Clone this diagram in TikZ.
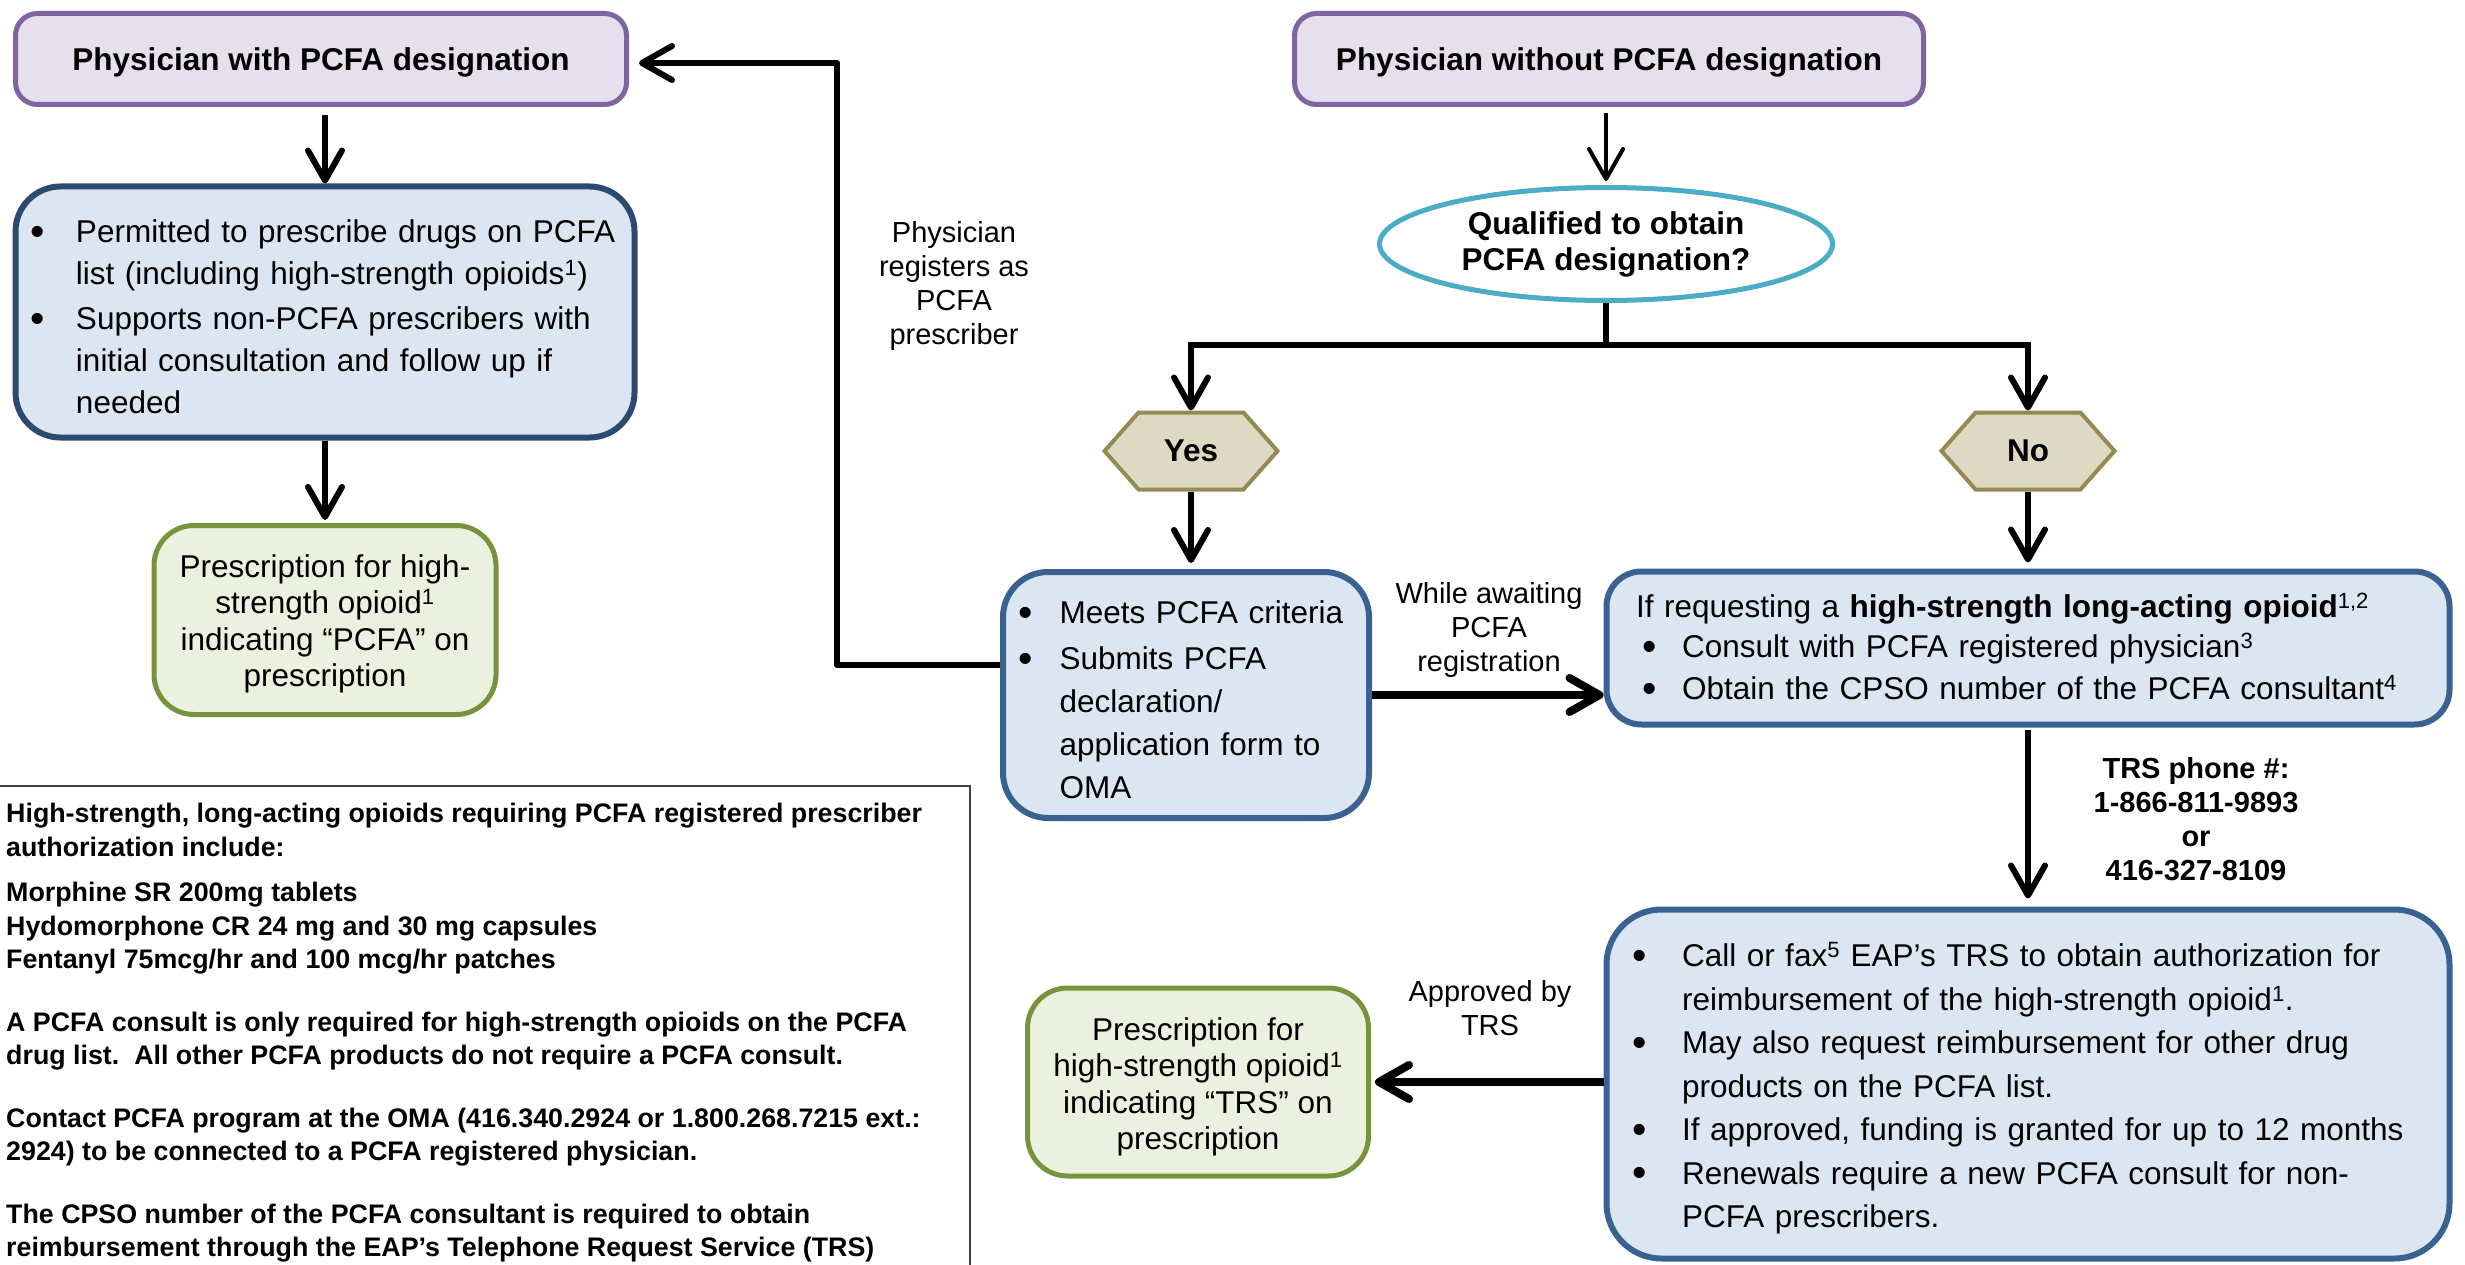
\documentclass[tikz,border=0pt]{standalone}
\usepackage{fontspec}
\usepackage{graphicx}
\setmainfont{Liberation Sans}
\usetikzlibrary{arrows.meta,shapes.geometric,shapes.symbols}

\definecolor{purpleline}{HTML}{8064A2}
\definecolor{purplefill}{HTML}{E5E0EC}
\definecolor{navyline}{HTML}{2C4A6E}
\definecolor{blueline}{HTML}{3A6291}
\definecolor{bluefill}{HTML}{DCE6F2}
\definecolor{greenline}{HTML}{77933C}
\definecolor{greenfill}{HTML}{EBF1DE}
\definecolor{hexline}{HTML}{948A54}
\definecolor{hexfill}{HTML}{DDD9C3}
\definecolor{ovalline}{HTML}{4BACC6}

\newcommand{\bitem}[1][44pt]{\makebox[#1][l]{\raisebox{-2.5pt}{\scalebox{1.3}{\textbullet}}}}
\newcommand{\bgap}[1][44pt]{\hspace*{#1}}
\newcommand{\topstrut}[1][33pt]{\rule{0pt}{#1}}

\begin{document}
\begin{tikzpicture}
        [
            x=1pt, y=-1pt,
            titlebox/.style = {draw=purpleline, fill=purplefill, line width=5pt, rounded corners=22pt, inner sep=0pt, text depth=0pt, font=\bfseries\fontsize{31.5}{38}\selectfont},
            bluebox/.style = {draw=blueline, fill=bluefill, line width=6pt, rounded corners=45pt, align=left, font=\fontsize{31.5}{43}\selectfont},
            greenbox/.style = {draw=greenline, fill=greenfill, line width=5pt, rounded corners=40pt, inner sep=0pt, align=center, font=\fontsize{31.5}{36.5}\selectfont},
            oval/.style = {ellipse, draw=ovalline, fill=white, line width=5pt, inner sep=0pt, align=center, font=\bfseries\fontsize{31.5}{36}\selectfont},
            hexa/.style = {signal, signal to=west and east, signal pointer angle=97, draw=hexline, fill=hexfill, line width=4pt, minimum width=173pt, minimum height=77pt, inner sep=0pt, font=\bfseries\fontsize{31.5}{36}\selectfont},
            flowlabel/.style = {align=center, inner sep=0pt, font=\fontsize{29}{34}\selectfont},
            arr/.style = {line width=6pt, -{Straight Barb[length=30pt, width=34pt, round]}},
        ]
        \useasboundingbox (0,0) rectangle (2465,1265);

        % left column
        \node [titlebox, minimum width=611pt, minimum height=91pt] (withpcfa) at (321,59) {Physician with PCFA designation};
        \node [bluebox, draw=navyline, text width=590pt, inner xsep=14.5pt, minimum height=251pt, font=\fontsize{31.5}{42}\selectfont] (permitted) at (325,312) {\topstrut\bitem[46pt]Permitted to prescribe drugs on PCFA\\ \bgap[46pt]list (including high-strength opioids\textsuperscript{1})\\[3pt] \bitem[46pt]Supports non-PCFA prescribers with\\ \bgap[46pt]initial consultation and follow up if\\ \bgap[46pt]needed};
        \node [greenbox, minimum width=342pt, minimum height=189pt] (rxpcfa) at (325,620) {\topstrut[31pt]Prescription for high-\\strength opioid\textsuperscript{1}\\indicating “PCFA” on\\prescription};

        % right column
        \node [titlebox, minimum width=629pt, minimum height=91pt] (withoutpcfa) at (1609,59) {Physician without PCFA designation};
        \node [oval, minimum width=453pt, minimum height=113pt] (qualified) at (1606,244) {Qualified to obtain\\PCFA designation?};
        \coordinate (split) at (1606,345);
        \node [hexa] (yes) at (1191,451) {Yes};
        \node [hexa] (no) at (2028,451) {No};
        \node [bluebox, text width=335pt, inner xsep=15.5pt, minimum height=246pt] (meets) at (1186,695) {\topstrut\bitem[41pt]Meets PCFA criteria\\[3pt] \bitem[41pt]Submits PCFA\\ \bgap[41pt]declaration/\\ \bgap[41pt]application form to\\ \bgap[41pt]OMA};
        \node [bluebox, rounded corners=35pt, text width=784pt, inner xsep=29.5pt, minimum height=153pt, font=\fontsize{31.5}{40}\selectfont] (ifreq) at (2028,648) {If requesting a \textbf{high-strength long-acting opioid}\textsuperscript{1,2}\\ \bgap[6pt]\bitem[40pt]Consult with PCFA registered physician\textsuperscript{3}\\[2pt] \bgap[6pt]\bitem[40pt]Obtain the CPSO number of the PCFA consultant\textsuperscript{4}};
        \node [bluebox, rounded corners=55pt, text width=792pt, inner xsep=25.5pt, minimum height=349pt, font=\fontsize{31.5}{43.5}\selectfont] (reimburse) at (2028,1084) {\topstrut\bitem[50pt]Call or fax\textsuperscript{5} EAP’s TRS to obtain authorization for\\ \bgap[50pt]reimbursement of the high-strength opioid\textsuperscript{1}.\\ \bitem[50pt]May also request reimbursement for other drug\\ \bgap[50pt]products on the PCFA list.\\ \bitem[50pt]If approved, funding is granted for up to 12 months\\ \bitem[50pt]Renewals require a new PCFA consult for non-\\ \bgap[50pt]PCFA prescribers.};
        \node [greenbox, minimum width=341pt, minimum height=188pt] (rxtrs) at (1198,1082) {\topstrut Prescription for\\high-strength opioid\textsuperscript{1}\\indicating “TRS” on\\prescription};

        % connector labels
        \node [flowlabel] (registers) at (954,286) {Physician\\registers as\\PCFA\\prescriber};
        \node [flowlabel] (awaiting) at (1489,630) {While awaiting\\PCFA\\registration};
        \node [flowlabel] (approved) at (1490,1008) {Approved by\\TRS};
        \node [flowlabel, font=\bfseries\fontsize{29}{34}\selectfont] (trsphone) at (2196,819) {TRS phone \#:\\1-866-811-9893\\or\\416-327-8109};

        % notes
        \draw [line width=2pt, draw=black!75] (-10,786) -- (970,786) -- (970,1280);
        \node [anchor=north west, align=left, inner sep=0pt, font=\bfseries\fontsize{26.8}{33.5}\selectfont] (notes) at (6,803) {High-strength, long-acting opioids requiring PCFA registered prescriber\\authorization include:\\[12pt] Morphine SR 200mg tablets\\Hydomorphone CR 24 mg and 30 mg capsules\\Fentanyl 75mcg/hr and 100 mcg/hr patches\\[29pt] A PCFA consult is only required for high-strength opioids on the PCFA\\drug list.\ \ All other PCFA products do not require a PCFA consult.\\[29pt] Contact PCFA program at the OMA (416.340.2924 or 1.800.268.7215 ext.:\\2924) to be connected to a PCFA registered physician.\\[29pt] The CPSO number of the PCFA consultant is required to obtain\\reimbursement through the EAP’s Telephone Request Service (TRS)};

        % connectors
        \draw [arr, shorten <=8pt] (withpcfa.south -| permitted.north) -- (permitted.north);
        \draw [arr, shorten >=3pt] (permitted) -- (rxpcfa);
        \draw [arr, line width=4pt, shorten <=6pt, shorten >=4pt] (withoutpcfa.south -| qualified.north) -- (qualified.north);
        \draw [line width=6pt] (qualified) -- (split);
        \draw [arr] (split) -| (yes);
        \draw [arr] (split) -| (no);
        \draw [arr, shorten >=6pt] (yes.south) -- (yes.south |- meets.north);
        \draw [arr, shorten >=6pt] (no.south) -- (no.south |- ifreq.north);
        \draw [arr, line width=8pt] (meets.east) -- (meets.east -| ifreq.west);
        \draw [arr, shorten <=2pt, shorten >=8pt] (ifreq) -- (reimburse);
        \draw [arr, line width=8pt, shorten >=4pt] (reimburse.west |- rxtrs.east) -- (rxtrs.east);
        \coordinate (regturn) at (837,63);
        \draw [arr, line join=round, shorten >=10pt] ([yshift=30pt]meets.west) -| (regturn) -- (regturn -| withpcfa.east);
    \end{tikzpicture}
\end{document}
